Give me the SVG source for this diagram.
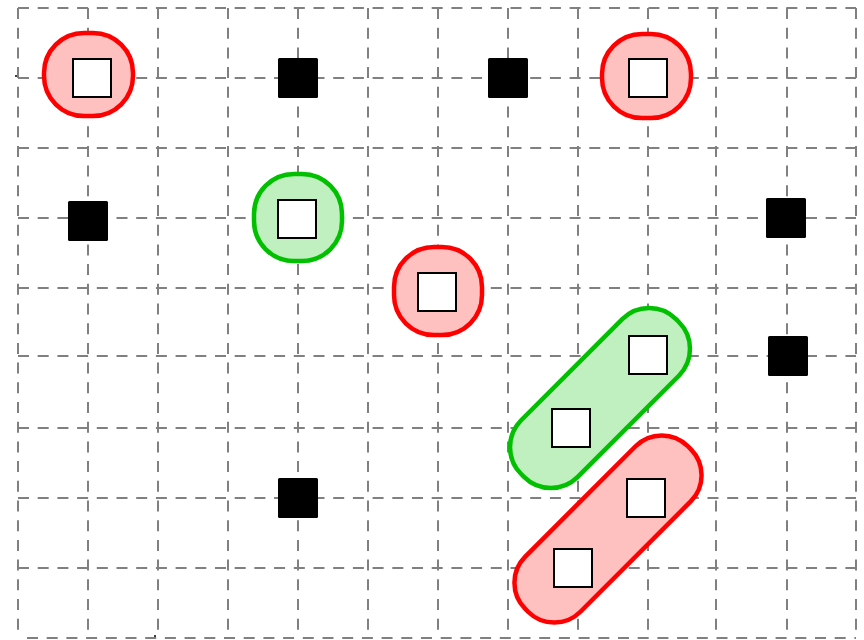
<svg xmlns="http://www.w3.org/2000/svg" width="864" height="640" viewBox="0 0 864 640">
<style>
.grid{fill:none;stroke:#808080;stroke-width:2;stroke-dasharray:11 8.7}
.red{fill:#ffc0c0;stroke:#ff0000;stroke-width:4.5}
.green{fill:#c0f0c0;stroke:#00c000;stroke-width:4.5}
.open{fill:#ffffff;stroke:#000000;stroke-width:2}
.solid{fill:#000000;stroke:none}
</style>
<rect x="0" y="0" width="864" height="640" fill="#ffffff"/>
<g id="grid">
<path class="grid" d="M18 8H856M18 78H856M18 148H856M18 218H856M18 288H856M18 356H856M18 428H856M18 498H856M18 568H856M27 638H856"/>
<path class="grid" d="M18 8V638M88 8V638M158 8V638M228 8V638M298 8V638M368 8V638M438 8V638M508 8V638M578 8V638M648 8V638M716 8V638M787 8V638M856 8V638"/>
<circle cx="16" cy="76" r="1" fill="#000"/>
<circle cx="155" cy="636" r="1" fill="#000"/>
</g>
<g id="groups">
<rect id="g1" class="red" x="44" y="33" width="89" height="83" rx="40"/>
<rect id="g2" class="red" x="602" y="34" width="89" height="84" rx="40"/>
<rect id="g3" class="green" x="254" y="174" width="88" height="87" rx="40"/>
<rect id="g4" class="red" x="394" y="247" width="88" height="88" rx="40"/>
<rect id="g5" class="green" x="490.5" y="358" width="219" height="80" rx="38" transform="rotate(-45 600 398)"/>
<rect id="g6" class="red" x="493" y="490" width="230" height="78" rx="37" transform="rotate(-45 608 529)"/>
</g>
<g id="nodes">
<rect id="n1" class="open" x="73" y="59" width="38" height="38"/>
<rect id="n2" class="solid" x="278" y="58" width="40" height="40" rx="1.5"/>
<rect id="n3" class="solid" x="488" y="58" width="40" height="40" rx="1.5"/>
<rect id="n4" class="open" x="629" y="59" width="38" height="38"/>
<rect id="n5" class="solid" x="68" y="201" width="40" height="40" rx="1.5"/>
<rect id="n6" class="open" x="278" y="200" width="38" height="38"/>
<rect id="n7" class="solid" x="766" y="198" width="40" height="40" rx="1.5"/>
<rect id="n8" class="open" x="418" y="273" width="38" height="38"/>
<rect id="n9" class="open" x="629" y="336" width="38" height="38"/>
<rect id="n10" class="open" x="552" y="409" width="38" height="38"/>
<rect id="n11" class="solid" x="768" y="336" width="40" height="40" rx="1.5"/>
<rect id="n12" class="solid" x="278" y="478" width="40" height="40" rx="1.5"/>
<rect id="n13" class="open" x="627" y="479" width="38" height="38"/>
<rect id="n14" class="open" x="554" y="549" width="38" height="38"/>
</g>
</svg>
